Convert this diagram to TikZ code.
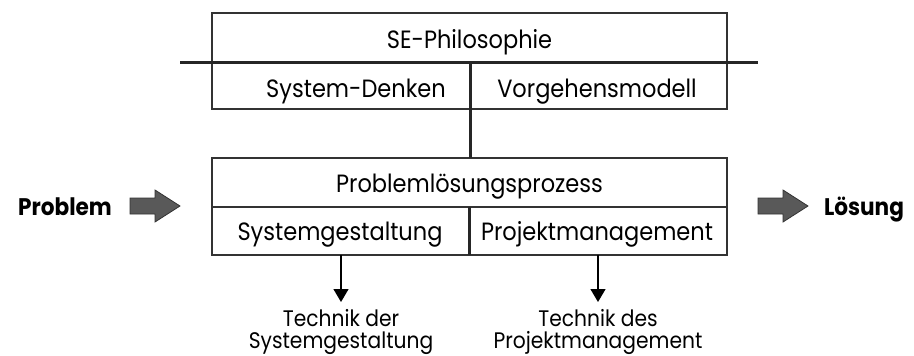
\documentclass[tikz,border=0pt]{standalone}
\usepackage{fontspec}
\setmainfont{Poppins}[FakeStretch=0.9]
\usetikzlibrary{arrows.meta}
\tikzset{
  boxtext/.style={font=\fontsize{25}{29}\selectfont, anchor=base, inner sep=0pt},
  techtext/.style={font=\fontsize{22.5}{22}\selectfont, align=center, anchor=north, inner sep=0pt},
  bigtext/.style={font=\bfseries\fontsize{24}{28}\selectfont, anchor=base, inner sep=0pt},
  thin/.style={line width=1.1pt, draw=black!80},
  thick/.style={line width=3pt, draw=black!85},
  blockarrow/.style={fill=black!65, draw=black!80, line width=0.8pt},
  downarrow/.style={line width=1.3pt, -{Triangle[width=15pt,length=13pt]}},
}
\begin{document}
\begin{tikzpicture}[x=1pt,y=-1pt]
  \useasboundingbox (0,0) rectangle (914,356);
  % boxes
  \draw[thin] (212,13) rectangle (727,109);
  \draw[thin] (212,158) rectangle (727,255);
  \draw[thin] (212,207) -- (727,207);
  \draw[thick] (180,62) -- (758,62);
  \draw[thick] (470,62) -- (470,158);
  \draw[thick] (469,207) -- (469,255);
  % texts in boxes
  \node[boxtext] (philo) at (469.5,48) {SE-Philosophie};
  \node[boxtext] (denken) at (356,97) {System-Denken};
  \node[boxtext] (modell) at (597,97) {Vorgehensmodell};
  \node[boxtext] (prozess) at (469.5,192) {Problemlösungsprozess};
  \node[boxtext] (gestaltung) at (340,240) {Systemgestaltung};
  \node[boxtext] (pm) at (597,240) {Projektmanagement};
  % in and out
  \node[bigtext] (problem) at (65,215) {Problem};
  \node[bigtext] (loesung) at (864,215) {Lösung};
  \draw[blockarrow] (130,198) -- (155,198) -- (155,190) -- (180,206) -- (155,222) -- (155,214) -- (130,214) -- cycle;
  \draw[blockarrow] (758,198) -- (783,198) -- (783,190) -- (808,206) -- (783,222) -- (783,214) -- (758,214) -- cycle;
  % techniques
  \coordinate (gs) at (341,255);
  \coordinate (pms) at (598,255);
  \node[techtext] (tgs) at (341,309) {Technik der\\Systemgestaltung};
  \node[techtext] (tpm) at (598,309) {Technik des\\Projektmanagement};
  \draw[downarrow] (gs) -- ([yshift=7pt]tgs.north);
  \draw[downarrow] (pms) -- ([yshift=7pt]tpm.north);
\end{tikzpicture}
\end{document}
